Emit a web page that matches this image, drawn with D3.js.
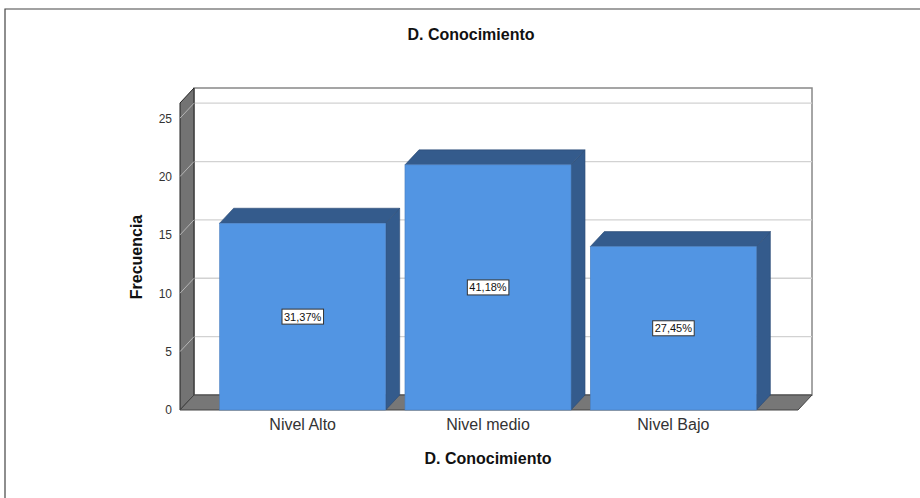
<!DOCTYPE html>
<html>
<head>
<meta charset="utf-8">
<script src="https://cdn.jsdelivr.net/npm/d3@7"></script>
<style>
  body { margin: 0; background: #fff; }
  svg { display: block; font-family: Arial, "Liberation Sans", sans-serif; }
</style>
</head>
<body>
<svg id="chart" width="920" height="498"></svg>
<script>
// data
const categories = ["Nivel Alto", "Nivel medio", "Nivel Bajo"];
const counts = [16, 21, 14];
const percentLabels = ["31,37%", "41,18%", "27,45%"];
const yTicks = [0, 5, 10, 15, 20, 25];

const svg = d3.select("#chart");
const W = 920, H = 498;

// 3D depth offset
const dx = 14, dy = 15;

// plot box (front plane)
const x0 = 180, x1 = 798, yBase = 410, yTop = 103;

const y = d3.scaleLinear().domain([0, 26.3]).range([yBase, yTop]);
const x = d3.scaleBand().domain(categories).range([210, 766]).paddingInner(0.104).paddingOuter(0.052);

// outer frame
svg.append("path")
  .attr("d", `M5,${H} V9 H${W}`)
  .attr("fill", "none")
  .attr("stroke", "#444")
  .attr("stroke-width", 1.2);

// title
svg.append("text")
  .attr("x", 471).attr("y", 40)
  .attr("text-anchor", "middle")
  .attr("font-size", 16).attr("font-weight", "bold")
  .attr("fill", "#111")
  .text("D. Conocimiento");

// back wall
svg.append("rect")
  .attr("x", x0 + dx).attr("y", yTop - dy)
  .attr("width", x1 - x0).attr("height", yBase - yTop)
  .attr("fill", "#fff")
  .attr("stroke", "#888").attr("stroke-width", 1.5);

// gridlines on back wall
svg.append("g").selectAll("line")
  .data(yTicks.filter(t => t > 0))
  .join("line")
    .attr("x1", x0 + dx).attr("x2", x1 + dx)
    .attr("y1", d => y(d) - dy).attr("y2", d => y(d) - dy)
    .attr("stroke", "#d2d2d2").attr("stroke-width", 1.3);

// left wall
svg.append("polygon")
  .attr("points", [[x0, yTop], [x0 + dx, yTop - dy], [x0 + dx, yBase - dy], [x0, yBase]].join(" "))
  .attr("fill", "#737373")
  .attr("stroke", "#222").attr("stroke-width", 1);

// grid diagonals on the left wall
svg.append("g").selectAll("line")
  .data(yTicks.filter(t => t > 0))
  .join("line")
    .attr("x1", x0).attr("x2", x0 + dx)
    .attr("y1", d => y(d)).attr("y2", d => y(d) - dy)
    .attr("stroke", "#b5b5b5").attr("stroke-width", 1);

// floor
svg.append("polygon")
  .attr("points", [[x0, yBase], [x0 + dx, yBase - dy], [x1 + dx, yBase - dy], [x1, yBase]].join(" "))
  .attr("fill", "#777")
  .attr("stroke", "#444").attr("stroke-width", 1);

// bars
const bars = svg.append("g").selectAll("g")
  .data(categories.map((c, i) => ({ cat: c, val: counts[i], pct: percentLabels[i] })))
  .join("g");

bars.append("polygon") // side
  .attr("points", d => {
    const xr = x(d.cat) + x.bandwidth();
    return [[xr, yBase], [xr, y(d.val)], [xr + dx, y(d.val) - dy], [xr + dx, yBase - dy]].join(" ");
  })
  .attr("fill", "#345b8c")
  .attr("stroke", "#2a4a73").attr("stroke-width", 0.6);

bars.append("polygon") // top
  .attr("points", d => {
    const xl = x(d.cat), xr = xl + x.bandwidth(), yt = y(d.val);
    return [[xl, yt], [xl + dx, yt - dy], [xr + dx, yt - dy], [xr, yt]].join(" ");
  })
  .attr("fill", "#345b8c")
  .attr("stroke", "#2a4a73").attr("stroke-width", 0.6);

bars.append("rect") // front
  .attr("x", d => x(d.cat))
  .attr("y", d => y(d.val))
  .attr("width", x.bandwidth())
  .attr("height", d => yBase - y(d.val))
  .attr("fill", "#5295e3")
  .attr("stroke", "#4a7fc0").attr("stroke-width", 0.6);

// percentage labels
bars.each(function(d) {
  const g = d3.select(this);
  const cx = x(d.cat) + x.bandwidth() / 2;
  const cy = (y(d.val) + yBase) / 2;
  const t = g.append("text")
    .attr("x", cx).attr("y", cy)
    .attr("text-anchor", "middle")
    .attr("dominant-baseline", "central")
    .attr("font-size", 11)
    .attr("fill", "#111")
    .text(d.pct);
  const bb = t.node().getBBox();
  g.insert("rect", "text")
    .attr("x", bb.x - 2).attr("y", cy - 7.5)
    .attr("width", bb.width + 4).attr("height", 15)
    .attr("fill", "#fff")
    .attr("stroke", "#333").attr("stroke-width", 1);
});

// y axis
const yAxis = svg.append("g")
  .attr("transform", `translate(${x0},0)`)
  .call(d3.axisLeft(y).tickValues(yTicks).tickSize(0).tickPadding(8));
yAxis.select(".domain").remove();
yAxis.selectAll("text").attr("font-size", 12).attr("fill", "#333")
  .attr("font-family", "Arial, 'Liberation Sans', sans-serif");

// x axis
const xAxis = svg.append("g")
  .attr("transform", `translate(0,${yBase})`)
  .call(d3.axisBottom(x).tickSize(0).tickPadding(9));
xAxis.select(".domain").remove();
xAxis.selectAll("text").attr("font-size", 16).attr("fill", "#333")
  .attr("font-family", "Arial, 'Liberation Sans', sans-serif");

// axis titles
svg.append("text")
  .attr("x", 488).attr("y", 464)
  .attr("text-anchor", "middle")
  .attr("font-size", 16).attr("font-weight", "bold")
  .attr("fill", "#111")
  .text("D. Conocimiento");

svg.append("text")
  .attr("transform", "translate(142,257) rotate(-90)")
  .attr("text-anchor", "middle")
  .attr("font-size", 16).attr("font-weight", "bold")
  .attr("fill", "#111")
  .text("Frecuencia");
</script>
</body>
</html>
